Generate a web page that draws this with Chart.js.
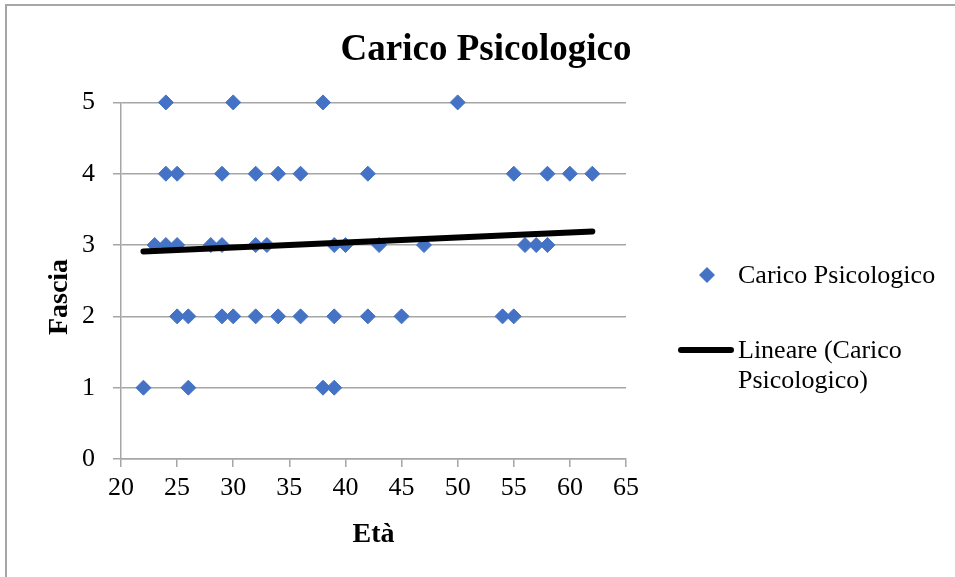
<!DOCTYPE html>
<html lang="it">
<head>
<meta charset="utf-8">
<title>Carico Psicologico</title>
<script src="https://cdn.jsdelivr.net/npm/chart.js@4.4.1/dist/chart.umd.min.js"></script>
<style>
    html, body { margin: 0; padding: 0; background: #fff; overflow: hidden; }
    #wrap { position: relative; width: 955px; height: 577px; overflow: hidden; }
    #frame { position: absolute; left: 5px; top: 4px; width: 1000px; height: 1000px; border: 2px solid #a6a6a6; box-sizing: border-box; }
    #chart { position: absolute; left: 0; top: 0; }
</style>
</head>
<body>
<div id="wrap">
    <div id="frame"></div>
    <canvas id="chart" width="955" height="577"></canvas>
</div>
<script>
// eta / fascia di ogni risposta (raggruppati per fascia)
const eta = [
    24, 30, 38, 50,
    24, 25, 29, 32, 34, 36, 42, 55, 58, 60, 62,
    23, 24, 25, 28, 29, 32, 33, 39, 40, 43, 47, 56, 57, 58,
    25, 26, 29, 30, 32, 34, 36, 39, 42, 45, 54, 55,
    22, 26, 38, 39
];
const fascia = [
    5, 5, 5, 5,
    4, 4, 4, 4, 4, 4, 4, 4, 4, 4, 4,
    3, 3, 3, 3, 3, 3, 3, 3, 3, 3, 3, 3, 3, 3,
    2, 2, 2, 2, 2, 2, 2, 2, 2, 2, 2, 2,
    1, 1, 1, 1
];

// linea di tendenza: estremi
const trendEta = [22, 62];
const trendFascia = [2.91, 3.19];

const titolo = 'Carico Psicologico';
const serieLabel = 'Carico Psicologico';
const trendLabel = ['Lineare (Carico', 'Psicologico)'];
const xTitolo = 'Età';
const yTitolo = 'Fascia';

const FONT = "'Liberation Serif', 'Times New Roman', serif";
const BLU = '#4472C4';
const GRIGIO = '#a6a6a6';

// titolo asse Y e legenda disegnati a mano (posizione come in Excel)
const excelExtras = {
    id: 'excelExtras',
    afterDraw(chart) {
        const ctx = chart.ctx;
        ctx.save();

        // titolo asse Y
        ctx.translate(60, 297);
        ctx.rotate(-Math.PI / 2);
        ctx.font = 'bold 28px ' + FONT;
        ctx.fillStyle = '#000';
        ctx.textAlign = 'center';
        ctx.textBaseline = 'middle';
        ctx.fillText(yTitolo, 0, 0);
        ctx.setTransform(1, 0, 0, 1, 0, 0);

        // legenda
        ctx.font = '26px ' + FONT;
        ctx.textAlign = 'left';
        ctx.textBaseline = 'middle';

        ctx.fillStyle = BLU;
        ctx.beginPath();
        ctx.moveTo(699, 275);
        ctx.lineTo(707, 267);
        ctx.lineTo(715, 275);
        ctx.lineTo(707, 283);
        ctx.closePath();
        ctx.fill();
        ctx.fillStyle = '#000';
        ctx.fillText(serieLabel, 738, 276);

        ctx.strokeStyle = '#000';
        ctx.lineWidth = 6;
        ctx.lineCap = 'round';
        ctx.beginPath();
        ctx.moveTo(681, 350);
        ctx.lineTo(731, 350);
        ctx.stroke();
        trendLabel.forEach((t, i) => ctx.fillText(t, 738, 351 + i * 30));

        ctx.restore();
    }
};

const canvas = document.getElementById('chart');

new Chart(canvas, {
    type: 'scatter',
    data: {
        datasets: [
            {
                label: 'Lineare (' + serieLabel + ')',
                data: trendEta.map((x, i) => ({ x: x, y: trendFascia[i] })),
                showLine: true,
                borderColor: '#000',
                borderWidth: 6,
                borderCapStyle: 'round',
                pointRadius: 0,
                yAxisID: 'y',
                order: 0
            },
            {
                label: serieLabel,
                data: eta.map((x, i) => ({ x: x, y: fascia[i] })),
                pointStyle: 'rectRot',
                pointRadius: 7.5,
                backgroundColor: BLU,
                borderColor: BLU,
                borderWidth: 1,
                yAxisID: 'y',
                order: 1
            }
        ]
    },
    options: {
        responsive: false,
        animation: false,
        clip: false,
        layout: {
            padding: { left: 17, right: 0, top: 0, bottom: 0 }
        },
        plugins: {
            legend: { display: false },
            tooltip: { enabled: false },
            title: {
                display: true,
                text: titolo,
                color: '#000',
                font: { family: FONT, size: 37, weight: 'bold', lineHeight: 1.2 },
                padding: { top: 28, bottom: 30 }
            }
        },
        scales: {
            x: {
                type: 'linear',
                position: 'bottom',
                min: 20,
                max: 65,
                ticks: {
                    stepSize: 5,
                    color: '#000',
                    padding: 6,
                    font: { family: FONT, size: 26 }
                },
                grid: {
                    drawOnChartArea: false,
                    tickLength: 8,
                    color: GRIGIO,
                    lineWidth: 1.5
                },
                border: { color: GRIGIO, width: 1.5 },
                title: {
                    display: true,
                    text: xTitolo,
                    color: '#000',
                    font: { family: FONT, size: 28, weight: 'bold', lineHeight: 1.2 },
                    padding: { top: 0, bottom: 25 }
                },
                afterFit: s => { s.height = 118; }
            },
            y: {
                type: 'linear',
                position: 'left',
                min: 0,
                max: 5,
                ticks: {
                    stepSize: 1,
                    color: '#000',
                    padding: 18,
                    font: { family: FONT, size: 26 }
                },
                grid: {
                    tickLength: 8,
                    color: GRIGIO,
                    lineWidth: 1.5
                },
                border: { color: GRIGIO, width: 1.5 },
                afterFit: s => { s.width = 104; }
            },
            // spazio vuoto a destra per la legenda
            spazio: {
                type: 'linear',
                position: 'right',
                grid: { display: false },
                ticks: { display: false },
                border: { display: false },
                afterFit: s => { s.width = 329; }
            }
        }
    },
    plugins: [excelExtras]
});
</script>
</body>
</html>
